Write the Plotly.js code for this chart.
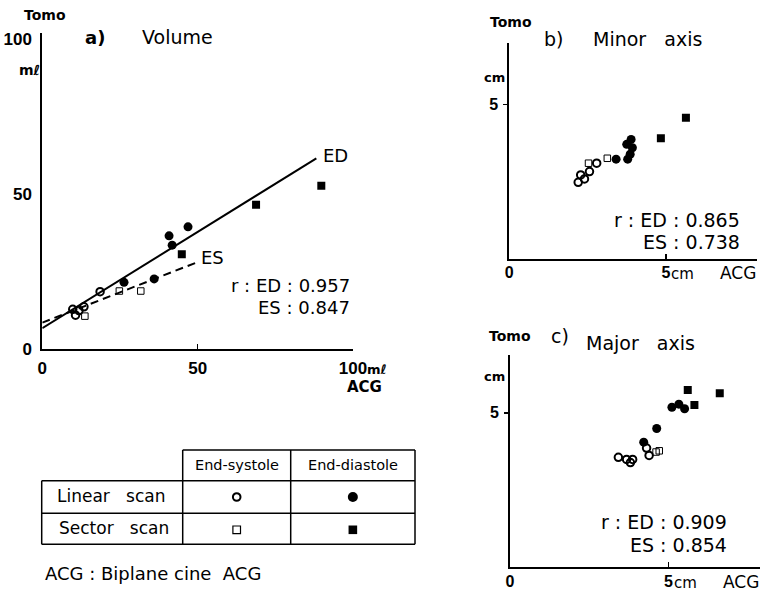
<!DOCTYPE html>
<html>
<head>
<meta charset="utf-8">
<script src="https://cdn.plot.ly/plotly-3.0.1.min.js"></script>
<style>body{margin:0;background:#fff}#chart{width:763px;height:594px}</style>
</head>
<body>
<div id="chart"></div>
<script>
// ---------- DATA ----------
// a) Volume (ml)  x = ACG, y = Tomo
const volLinEDx = [40.8, 41.8, 46.9, 26.3, 36.0];
const volLinEDy = [36.5, 33.5, 39.4, 21.5, 22.6];
const volSecEDx = [44.9, 68.8, 89.8];
const volSecEDy = [30.6, 46.5, 52.7];
const volLinESx = [18.6, 9.8, 10.7, 11.8, 13.4];
const volLinESy = [18.5, 12.8, 10.9, 12.4, 13.6];
const volSecESx = [24.8, 31.7, 13.7];
const volSecESy = [18.7, 18.7, 10.6];
const volEDlineX = [0, 88.2];
const volEDlineY = [6.7, 61.5];
const volESlineX = [0, 50.4];
const volESlineY = [8.5, 28.2];

// b) Minor axis (cm)
const minLinEDx = [3.89, 3.75, 3.93, 3.86, 3.78, 3.41];
const minLinEDy = [3.87, 3.71, 3.60, 3.39, 3.23, 3.23];
const minSecEDx = [5.64, 4.84];
const minSecEDy = [4.57, 3.91];
const minLinESx = [2.79, 2.56, 2.28, 2.40, 2.20];
const minLinESy = [3.10, 2.83, 2.72, 2.59, 2.48];
const minSecESx = [3.13, 2.53];
const minSecESy = [3.26, 3.10];

// c) Major axis (cm)
const majLinEDx = [5.11, 5.33, 5.51, 4.63, 4.22];
const majLinEDy = [5.18, 5.28, 5.13, 4.49, 4.05];
const majSecEDx = [5.61, 6.62, 5.82];
const majSecEDy = [5.74, 5.63, 5.25];
const majLinESx = [4.31, 3.42, 3.68, 3.87, 3.80, 4.39];
const majLinESy = [3.86, 3.56, 3.49, 3.49, 3.39, 3.62];
const majSecESx = [4.71, 4.61];
const majSecESy = [3.77, 3.73];

const rVolume = ['0.957', '0.847'];
const rMinor = ['0.865', '0.738'];
const rMajor = ['0.909', '0.854'];

const tableCols = ['End-systole', 'End-diastole'];
const tableRows = ['Linear   scan', 'Sector   scan'];

// ---------- LAYOUT HELPERS ----------
const W = 763, H = 594;
const px = v => v / W;
const py = v => 1 - v / H;
const FONT = 'DejaVu Sans, Liberation Sans, sans-serif';
const TICKFONT = 'Liberation Sans, Arial, sans-serif';

const styles = {
  linED: {symbol: 'circle', size: 9, color: '#000'},
  secED: {symbol: 'square', size: 8, color: '#000'},
  linES: {symbol: 'circle-open', size: 7.5, color: '#000', line: {width: 2, color: '#000'}},
  secES: {symbol: 'square-open', size: 6.5, color: '#000', line: {width: 1, color: '#000'}}
};

function pts(x, y, st, xa, ya) {
  return {x: x, y: y, type: 'scatter', mode: 'markers', marker: st,
          xaxis: xa, yaxis: ya, showlegend: false, hoverinfo: 'skip'};
}

const traces = [
  {x: volEDlineX, y: volEDlineY, type: 'scatter', mode: 'lines', line: {color: '#000', width: 2},
   xaxis: 'x', yaxis: 'y', showlegend: false, hoverinfo: 'skip'},
  {x: volESlineX, y: volESlineY, type: 'scatter', mode: 'lines', line: {color: '#000', width: 2, dash: '8px,5px'},
   xaxis: 'x', yaxis: 'y', showlegend: false, hoverinfo: 'skip'},
  pts(volLinEDx, volLinEDy, styles.linED, 'x', 'y'),
  pts(volSecEDx, volSecEDy, styles.secED, 'x', 'y'),
  pts(volLinESx, volLinESy, styles.linES, 'x', 'y'),
  pts(volSecESx, volSecESy, styles.secES, 'x', 'y'),
  pts(minLinEDx, minLinEDy, styles.linED, 'x2', 'y2'),
  pts(minSecEDx, minSecEDy, styles.secED, 'x2', 'y2'),
  pts(minLinESx, minLinESy, styles.linES, 'x2', 'y2'),
  pts(minSecESx, minSecESy, styles.secES, 'x2', 'y2'),
  pts(majLinEDx, majLinEDy, styles.linED, 'x3', 'y3'),
  pts(majSecEDx, majSecEDy, styles.secED, 'x3', 'y3'),
  pts(majLinESx, majLinESy, styles.linES, 'x3', 'y3'),
  pts(majSecESx, majSecESy, styles.secES, 'x3', 'y3')
];

const baseAxis = {
  showline: true, linecolor: '#000', linewidth: 2, showgrid: false, zeroline: false,
  tickcolor: '#000', tickwidth: 1.5, fixedrange: true,
  tickfont: {family: TICKFONT, size: 17, color: '#000', weight: 'bold'}
};
const smallTick = {family: TICKFONT, size: 16, color: '#000', weight: 'bold'};

const layout = {
  width: W, height: H,
  margin: {l: 0, r: 0, t: 0, b: 0},
  paper_bgcolor: '#fff', plot_bgcolor: 'rgba(0,0,0,0)',
  font: {family: FONT, color: '#000'},
  showlegend: false,
  xaxis: Object.assign({}, baseAxis, {
    domain: [px(42.3), px(353)], range: [0, 100], anchor: 'y',
    tickmode: 'array', tickvals: [0, 50, 100], ticktext: ['0', '50', '100'],
    ticks: 'inside', ticklen: 5, ticklabelstandoff: 3
  }),
  yaxis: Object.assign({}, baseAxis, {
    domain: [py(349), py(33)], range: [0, 316 / 3.1], anchor: 'x',
    tickmode: 'array', tickvals: [0, 50, 100], ticktext: ['0', '50', '100'],
    ticks: '', ticklabelstandoff: 5
  }),
  xaxis2: Object.assign({}, baseAxis, {
    domain: [px(509.3), px(756.7)], range: [0, 7.9], anchor: 'y2',
    tickmode: 'array', tickvals: [0, 5], ticktext: ['0', '5'],
    ticks: 'inside', ticklen: 5, ticklabelstandoff: -2, tickfont: smallTick
  }),
  yaxis2: Object.assign({}, baseAxis, {
    domain: [py(259), py(42.7)], range: [0, 7.0], anchor: 'x2',
    tickmode: 'array', tickvals: [5], ticktext: ['5'],
    ticks: 'outside', ticklen: 4, ticklabelstandoff: 2, tickfont: smallTick
  }),
  xaxis3: Object.assign({}, baseAxis, {
    domain: [px(510), px(760)], range: [0, 7.89], anchor: 'y3',
    tickmode: 'array', tickvals: [0, 5], ticktext: ['0', '5'],
    ticks: 'inside', ticklen: 5, ticklabelstandoff: -2, tickfont: smallTick
  }),
  yaxis3: Object.assign({}, baseAxis, {
    domain: [py(567.3), py(355)], range: [0, 6.87], anchor: 'x3',
    tickmode: 'array', tickvals: [5], ticktext: ['5'],
    ticks: 'outside', ticklen: 4, ticklabelstandoff: 2, tickfont: smallTick
  }),
  annotations: [],
  shapes: []
};

function note(text, x, y, size, opts) {
  layout.annotations.push(Object.assign({
    text: text, xref: 'paper', yref: 'paper', x: px(x), y: py(y),
    xanchor: 'center', yanchor: 'middle', showarrow: false,
    font: {family: FONT, size: size, color: '#000'}
  }, opts || {}));
}

// panel a texts
note('<b>Tomo</b>', 45, 15, 14);
note('<b>mℓ</b>', 29, 70, 14);
note('<b>a)</b>', 95, 37, 18);
note('Volume', 177, 37, 19);
note('ED', 335, 155, 18);
note('ES', 212, 257, 18);
note('r : ED : ' + rVolume[0], 352, 285, 18, {xanchor: 'right'});
note('ES : ' + rVolume[1], 352, 307, 18, {xanchor: 'right'});
note('<b>mℓ</b>', 377, 369, 13);
note('<b>ACG</b>', 364, 387, 15);

// panel b texts
note('<b>Tomo</b>', 511, 22, 14);
note('b)', 553, 39, 19);
note('Minor   axis', 647, 39, 19);
note('<b>cm</b>', 494, 77, 13);
note('r : ED : ' + rMinor[0], 742, 220, 19, {xanchor: 'right'});
note('ES : ' + rMinor[1], 742, 242, 19, {xanchor: 'right'});
note('cm', 682, 274, 15);
note('ACG', 738, 273, 17);

// panel c texts
note('<b>Tomo</b>', 510, 336, 14);
note('c)', 560, 336, 19);
note('Major   axis', 640, 343, 19);
note('<b>cm</b>', 494, 376, 13);
note('r : ED : ' + rMajor[0], 729, 522, 19, {xanchor: 'right'});
note('ES : ' + rMajor[1], 729, 545, 19, {xanchor: 'right'});
note('cm', 685, 583, 15);
note('ACG', 741, 582, 17);

// table
const tL = 41.7, tC1 = 182.7, tC2 = 290.7, tR = 415;
const tTop = 450, tH = 480.7, tR1 = 513.3, tB = 544.3;
function hline(x0, x1, y) {
  layout.shapes.push({type: 'line', xref: 'paper', yref: 'paper', x0: px(x0), x1: px(x1), y0: py(y), y1: py(y), line: {color: '#000', width: 1.5}});
}
function vline(x, y0, y1) {
  layout.shapes.push({type: 'line', xref: 'paper', yref: 'paper', x0: px(x), x1: px(x), y0: py(y0), y1: py(y1), line: {color: '#000', width: 1.5}});
}
hline(tC1, tR, tTop); hline(tL, tR, tH); hline(tL, tR, tR1); hline(tL, tR, tB);
vline(tL, tH, tB); vline(tC1, tTop, tB); vline(tC2, tTop, tB); vline(tR, tTop, tB);
const colX = [(tC1 + tC2) / 2, (tC2 + tR) / 2];
const rowY = [(tH + tR1) / 2, (tR1 + tB) / 2];
note(tableCols[0], colX[0], 465, 14.5);
note(tableCols[1], colX[1], 465, 14.5);
note(tableRows[0], 111, rowY[0] - 1, 17);
note(tableRows[1], 114, rowY[1] - 1, 17);
function sym(kind, cx, cy, r, filled) {
  layout.shapes.push({type: kind, xref: 'paper', yref: 'paper',
    x0: px(cx - r), x1: px(cx + r), y0: py(cy + r), y1: py(cy - r),
    fillcolor: filled ? '#000' : 'rgba(0,0,0,0)', line: {color: '#000', width: filled ? 0 : (kind === 'circle' ? 2 : 1.2)}});
}
sym('circle', colX[0], rowY[0], 3.8, false);
sym('circle', colX[1], rowY[0], 5, true);
sym('rect', colX[0], rowY[1] + 1, 3.8, false);
sym('rect', colX[1], rowY[1] + 1, 4.3, true);
note('ACG : Biplane cine  ACG', 43, 573, 18, {xanchor: 'left'});

Plotly.newPlot('chart', traces, layout, {staticPlot: true, displayModeBar: false});
</script>
</body>
</html>
